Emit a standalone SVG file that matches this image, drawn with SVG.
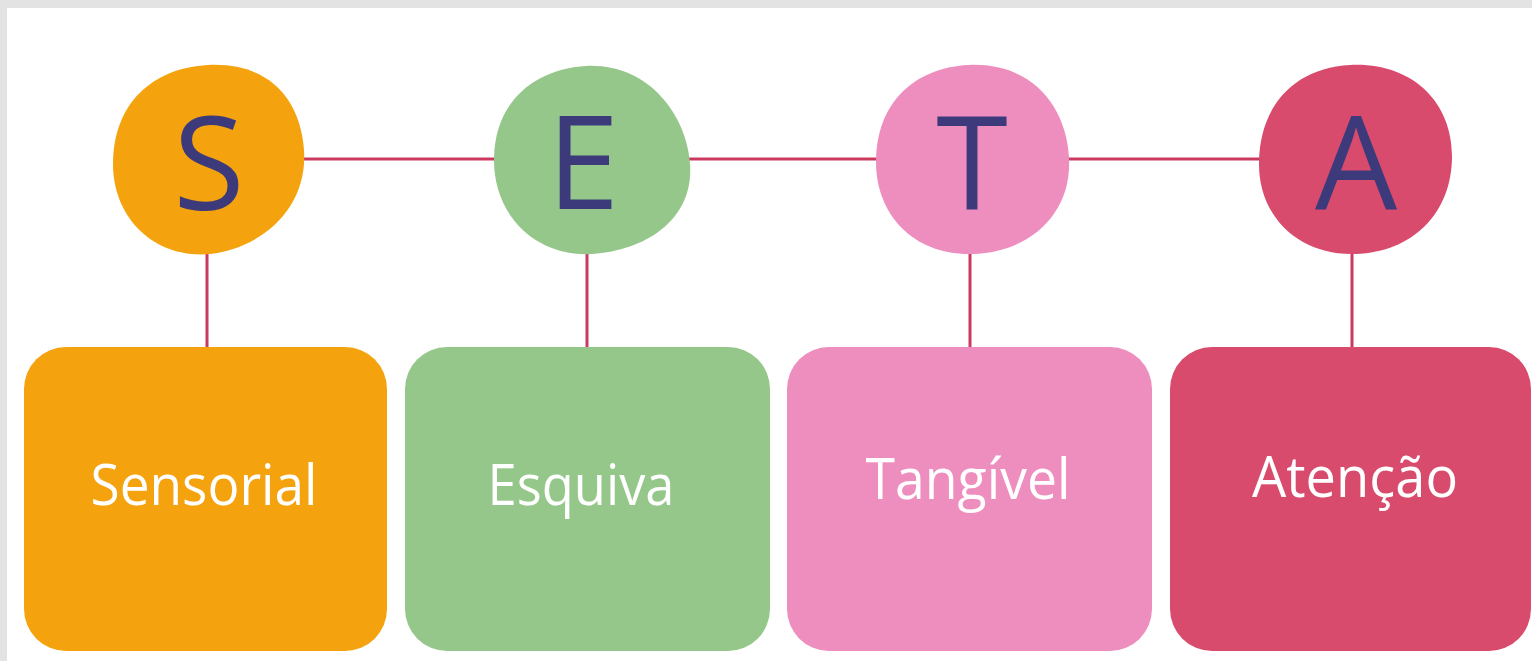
<svg xmlns="http://www.w3.org/2000/svg" width="1532" height="661" viewBox="0 0 1532 661">
<style>
.letter{font-family:"Open Sans","Liberation Sans",sans-serif;font-size:130px;font-weight:500;fill:#3d3a7c;text-anchor:middle}
.label{font-family:"Open Sans","Liberation Sans",sans-serif;font-size:56px;fill:#ffffff;text-anchor:middle}
.conn{stroke:#c93a5e;stroke-width:3;fill:none}
</style>
<rect x="0" y="0" width="1532" height="661" fill="#ffffff"/>
<rect x="0" y="0" width="1532" height="8" fill="#e3e3e3"/>
<rect x="0" y="0" width="7" height="661" fill="#e3e3e3"/>
<g id="connectors">
<line class="conn" x1="300" y1="159" x2="498" y2="159"/>
<line class="conn" x1="686" y1="159" x2="880" y2="159"/>
<line class="conn" x1="1066" y1="159" x2="1262" y2="159"/>
<line class="conn" x1="207" y1="250" x2="207" y2="350"/>
<line class="conn" x1="587" y1="250" x2="587" y2="350"/>
<line class="conn" x1="970" y1="250" x2="970" y2="350"/>
<line class="conn" x1="1352" y1="250" x2="1352" y2="350"/>
</g>
<g id="node-S">
<path d="M208,65 C266,62 300,96 304,150 C308,208 262,248 210,254 C154,259 113,218 113,164 C113,104 152,68 208,65 Z" fill="#f4a30f"/>
<text class="letter" x="209" y="210">S</text>
</g>
<g id="node-E">
<path d="M586,66 C646,63 686,112 690,164 C694,218 648,250 592,254 C534,257 493,214 494,158 C495,102 534,69 586,66 Z" fill="#96c78a"/>
<text class="letter" x="583" y="209">E</text>
</g>
<g id="node-T">
<path d="M968,65 C1030,62 1066,104 1069,158 C1072,214 1030,252 973,254 C915,256 876,216 876,162 C876,103 914,68 968,65 Z" fill="#ed8ebf"/>
<text class="letter" x="972" y="209">T</text>
</g>
<g id="node-A">
<path d="M1350,65 C1412,62 1452,102 1452,156 C1452,214 1412,252 1356,254 C1298,256 1258,216 1259,162 C1260,106 1294,68 1350,65 Z" fill="#d94b6c"/>
<text class="letter" x="1356" y="210">A</text>
</g>
<g id="box-sensorial">
<rect x="24" y="347" width="363" height="304" rx="42" fill="#f4a30f"/>
<text class="label" x="204" y="505" textLength="227" lengthAdjust="spacingAndGlyphs">Sensorial</text>
</g>
<g id="box-esquiva">
<rect x="405" y="347" width="365" height="304" rx="42" fill="#96c78a"/>
<text class="label" x="581" y="505" textLength="187" lengthAdjust="spacingAndGlyphs">Esquiva</text>
</g>
<g id="box-tangivel">
<rect x="787" y="347" width="365" height="304" rx="42" fill="#ed8ebf"/>
<text class="label" x="968" y="499" textLength="205" lengthAdjust="spacingAndGlyphs">Tangível</text>
</g>
<g id="box-atencao">
<rect x="1170" y="347" width="361" height="304" rx="42" fill="#d94b6c"/>
<text class="label" x="1355" y="497" textLength="206" lengthAdjust="spacingAndGlyphs">Atenção</text>
</g>
</svg>
